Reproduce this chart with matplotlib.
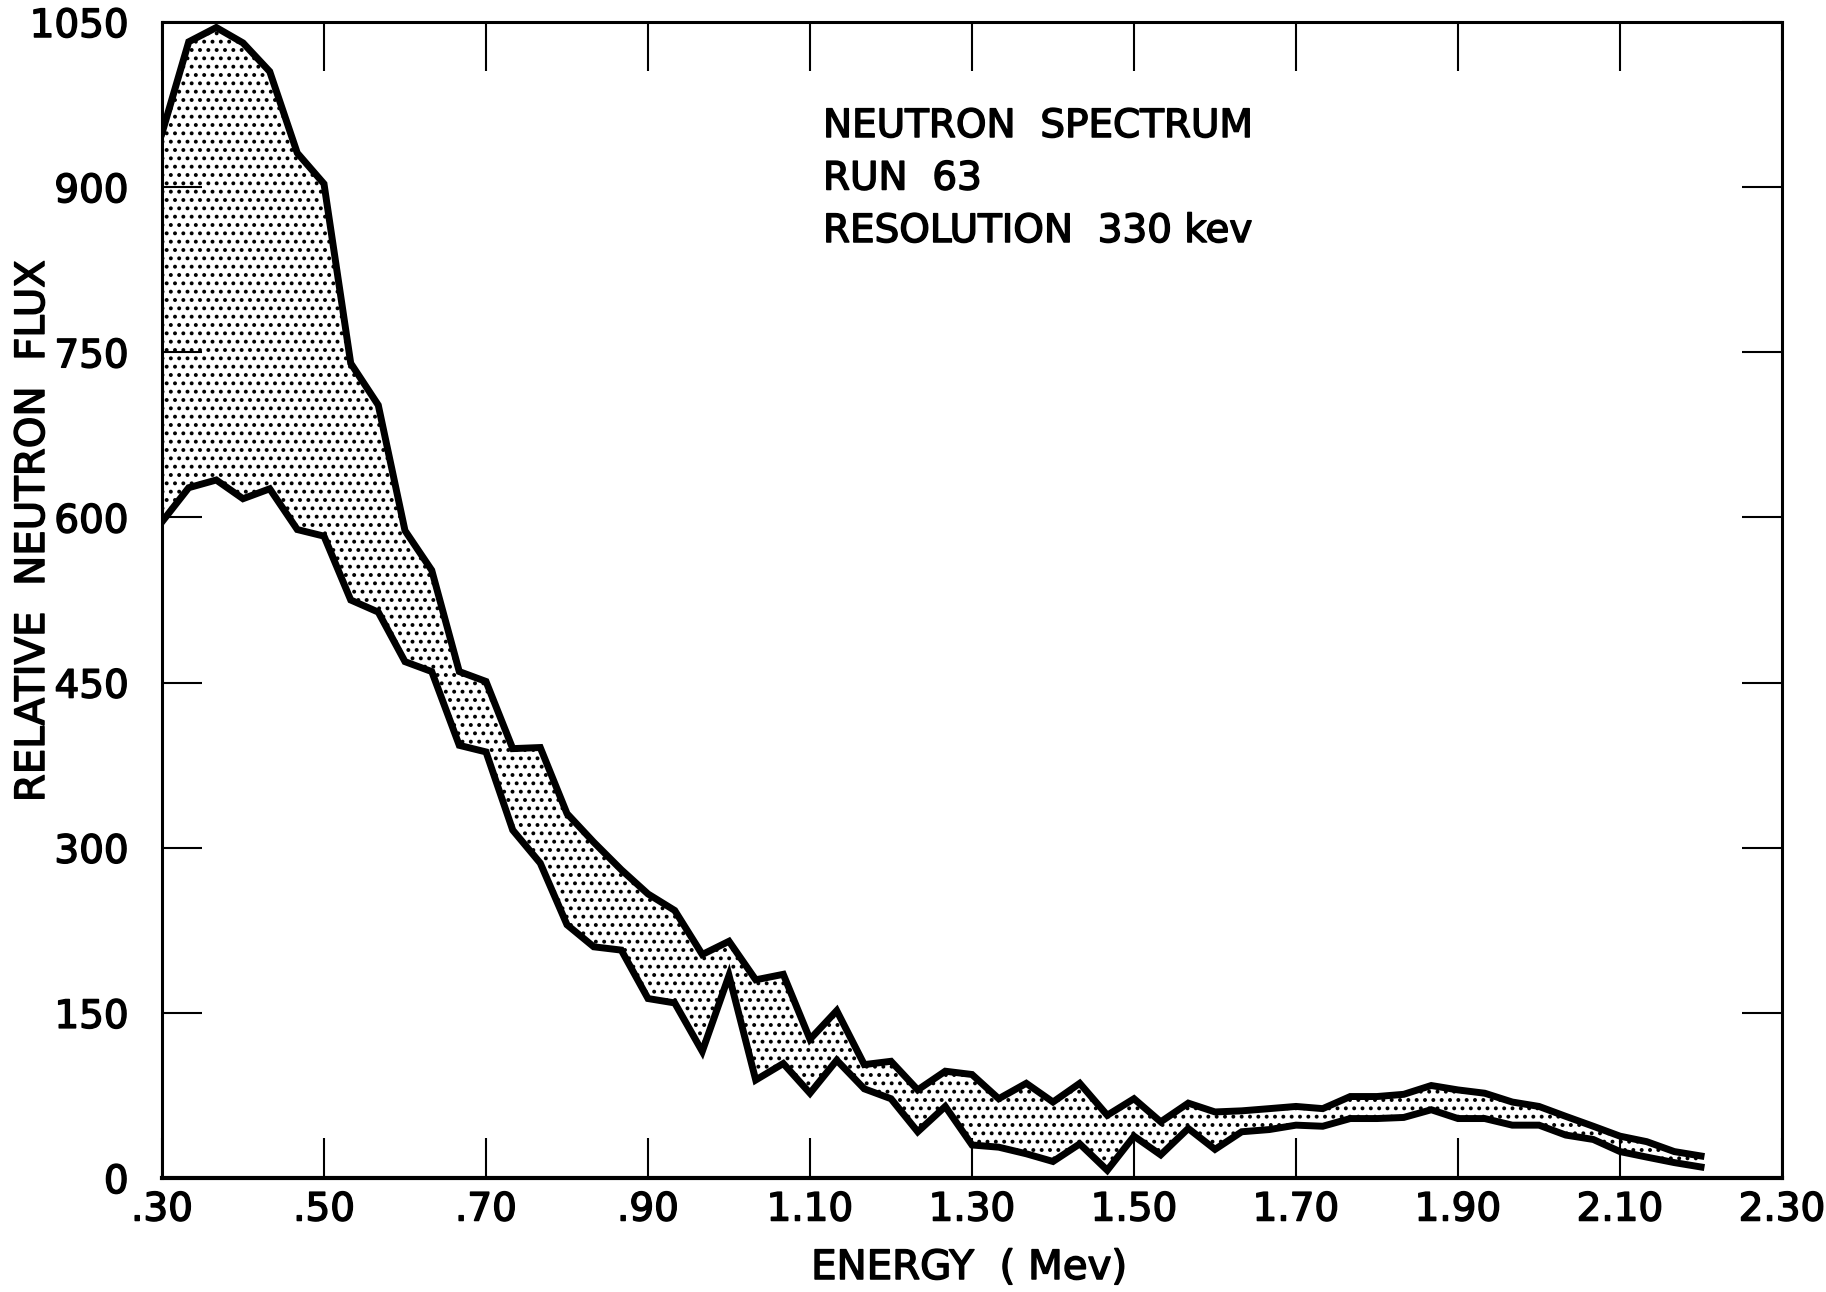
import matplotlib
matplotlib.use("Agg")
import matplotlib.pyplot as plt
import matplotlib.patheffects as pe

# ---- data ----
energy = [0.300, 0.333, 0.367, 0.400, 0.433, 0.467, 0.500, 0.533, 0.567, 0.600,
          0.633, 0.667, 0.700, 0.733, 0.767, 0.800, 0.833, 0.867, 0.900, 0.933,
          0.967, 1.000, 1.033, 1.067, 1.100, 1.133, 1.167, 1.200, 1.233, 1.267,
          1.300, 1.333, 1.367, 1.400, 1.433, 1.467, 1.500, 1.533, 1.567, 1.600,
          1.633, 1.667, 1.700, 1.733, 1.767, 1.800, 1.833, 1.867, 1.900, 1.933,
          1.967, 2.000, 2.033, 2.067, 2.100, 2.133, 2.167, 2.200]
flux_upper = [949, 1032, 1045, 1031, 1005, 931, 903, 740, 702, 588,
              552, 460, 451, 390, 391, 331, 305, 280, 258, 243,
              203, 215, 180, 185, 126, 152, 103, 106, 80, 97,
              94, 72, 86, 69, 86, 57, 72, 51, 68, 60,
              61, 63, 65, 63, 74, 74, 76, 84, 80, 77,
              69, 65, 56, 47, 38, 33, 24, 20]
flux_lower = [596, 627, 634, 617, 626, 589, 583, 525, 514, 469,
              460, 393, 387, 316, 286, 230, 210, 207, 163, 159,
              115, 184, 89, 104, 77, 107, 81, 72, 42, 65,
              30, 28, 22, 15, 31, 7, 38, 21, 45, 26,
              42, 44, 48, 47, 54, 54, 55, 62, 54, 54,
              48, 48, 39, 35, 24, 19, 14, 10]

x_ticks = [0.30, 0.50, 0.70, 0.90, 1.10, 1.30, 1.50, 1.70, 1.90, 2.10, 2.30]
x_ticklabels = [".30", ".50", ".70", ".90", "1.10", "1.30", "1.50", "1.70",
                "1.90", "2.10", "2.30"]
y_ticks = [0, 150, 300, 450, 600, 750, 900, 1050]
y_ticklabels = ["0", "150", "300", "450", "600", "750", "900", "1050"]

title_lines = ["NEUTRON  SPECTRUM", "RUN  63", "RESOLUTION  330 kev"]
x_label = "ENERGY  ( Mev)"
y_label = "RELATIVE  NEUTRON  FLUX"

# ---- style ----
plt.rcParams["font.family"] = ["DejaVu Sans"]
plt.rcParams["hatch.color"] = "black"
plt.rcParams["hatch.linewidth"] = 1.6

thick = [pe.withStroke(linewidth=1.1, foreground="black")]

W, H = 1826, 1292
fig = plt.figure(figsize=(W / 100, H / 100), dpi=100)
ax = fig.add_axes([162 / W, 1 - 1178 / H, 1620 / W, 1156 / H])

ax.fill_between(energy, flux_lower, flux_upper, facecolor="white",
                edgecolor="black", hatch="..", linewidth=0)
ax.plot(energy, flux_upper, color="black", lw=5.0, solid_joinstyle="miter")
ax.plot(energy, flux_lower, color="black", lw=5.0, solid_joinstyle="miter")

ax.set_xlim(0.30, 2.30)
ax.set_ylim(0, 1050)

for side, lw in (("left", 2.2), ("right", 2.2), ("top", 2.2), ("bottom", 3.0)):
    ax.spines[side].set_linewidth(lw)
    ax.spines[side].set_color("black")

ax.set_xticks(x_ticks)
ax.set_xticklabels(x_ticklabels)
ax.set_yticks(y_ticks)
ax.set_yticklabels(y_ticklabels)
ax.tick_params(axis="both", which="major", direction="in", length=29,
               width=1.5, colors="black", top=True, right=True,
               labelsize=28)
ax.tick_params(axis="x", pad=9)
ax.tick_params(axis="y", pad=24)
for t in ax.xaxis.get_major_ticks():
    t.tick2line.set_markersize(35)
for lab in ax.get_xticklabels() + ax.get_yticklabels():
    lab.set_path_effects(thick)

# annotation block
for i, line in enumerate(title_lines):
    fig.text(823 / W, 1 - (137 + 52.5 * i) / H, line, fontsize=28,
             ha="left", va="baseline", color="black", path_effects=thick)

fig.text(969 / W, 1 - 1268 / H, x_label, fontsize=29, ha="center",
         va="center", color="black", path_effects=thick)
fig.text(33 / W, 1 - 531 / H, y_label, fontsize=29, ha="center",
         va="center", rotation=90, color="black", path_effects=thick)

fig.savefig("out.png", dpi=100, facecolor="white")
